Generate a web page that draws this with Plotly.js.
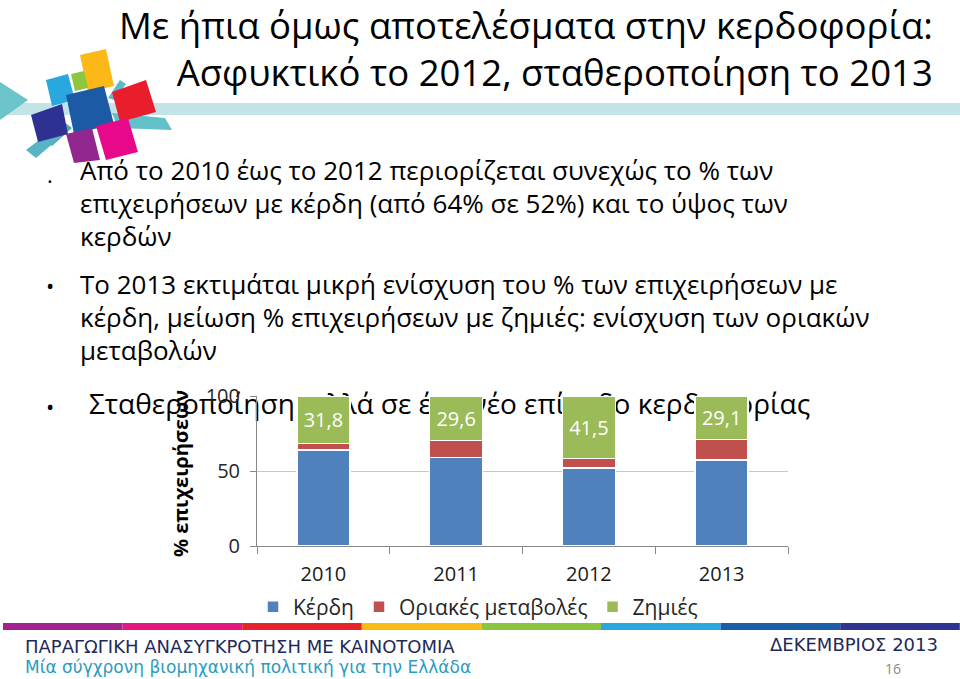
<!DOCTYPE html>
<html>
<head>
<meta charset="utf-8">
<script src="https://cdn.plot.ly/plotly-3.0.1.min.js"></script>
<style>html,body{margin:0;padding:0;background:#fff;}#chart{width:960px;height:679px;}</style>
</head>
<body>
<div id="chart"></div>
<script>
// ---- data ----
const years = ['2010', '2011', '2012', '2013'];
const profits = [64.0, 59.0, 52.0, 57.3];      // Κέρδη
const marginal = [4.2, 11.4, 6.5, 13.6];       // Οριακές μεταβολές
const losses = [31.8, 29.6, 41.5, 29.1];       // Ζημιές
const seriesNames = ['Κέρδη', 'Οριακές μεταβολές', 'Ζημιές'];
const seriesColors = ['#4f81bd', '#c0504d', '#9bbb59'];
const yTickVals = [0, 50, 100];
const yTitle = '% επιχειρήσεων';

const titleLines = ['Με ήπια όμως αποτελέσματα στην κερδοφορία:', 'Ασφυκτικό το 2012, σταθεροποίηση το 2013'];
const bullet1 = ['Από το 2010 έως το 2012 περιορίζεται συνεχώς το % των', 'επιχειρήσεων με κέρδη (από 64% σε 52%) και το ύψος των', 'κερδών'];
const bullet2 = ['Το 2013 εκτιμάται μικρή ενίσχυση του % των επιχειρήσεων με', 'κέρδη, μείωση % επιχειρήσεων με ζημιές: ενίσχυση των οριακών', 'μεταβολών'];
const bullet3 = 'Σταθεροποίηση, αλλά σε ένα νέο επίπεδο κερδοφορίας';
const footer1 = 'ΠΑΡΑΓΩΓΙΚΗ ΑΝΑΣΥΓΚΡΟΤΗΣΗ ΜΕ ΚΑΙΝΟΤΟΜΙΑ';
const footer2 = 'Μία σύγχρονη βιομηχανική πολιτική για την Ελλάδα';
const footerDate = 'ΔΕΚΕΜΒΡΙΟΣ 2013';
const pageNum = '16';
const stripeColors = ['#a3248f', '#e6157f', '#e52329', '#fbbb15', '#8dc43f', '#2ba7df', '#1b5ea8', '#2e3490'];

// ---- helpers (pixel -> paper) ----
const W = 960, H = 679;
const px = x => x / W;
const py = y => 1 - y / H;
const FONT = '"Open Sans", "Noto Sans", sans-serif';
const FFONT = '"DejaVu Sans", sans-serif';

function poly(pts, color) {
  const d = pts.map((p, i) => (i ? 'L' : 'M') + px(p[0]).toFixed(4) + ',' + py(p[1]).toFixed(4)).join(' ') + ' Z';
  return {type: 'path', xref: 'paper', yref: 'paper', path: d, fillcolor: color, line: {width: 0}, layer: 'above'};
}

const traces = [
  {type: 'bar', x: years, y: profits, name: seriesNames[0], marker: {color: seriesColors[0], line: {color: '#ffffff', width: 1.5}}, hoverinfo: 'none'},
  {type: 'bar', x: years, y: marginal, name: seriesNames[1], marker: {color: seriesColors[1], line: {color: '#ffffff', width: 1.5}}, hoverinfo: 'none'},
  {type: 'bar', x: years, y: losses, name: seriesNames[2], marker: {color: seriesColors[2], line: {color: '#ffffff', width: 1.5}},
   texttemplate: '%{y:.1f}', textposition: 'inside', insidetextanchor: 'middle', textangle: 0,
   textfont: {family: FONT, size: 20, color: '#ffffff'}, hoverinfo: 'none'}
];

const annotations = [];
function textAnn(t, x, y, size, color, anchor, extra) {
  annotations.push(Object.assign({xref: 'paper', yref: 'paper', x: px(x), y: py(y), text: t, showarrow: false,
    xanchor: anchor || 'left', yanchor: 'middle', font: {family: FONT, size: size, color: color || '#000'}}, extra || {}));
}
textAnn(titleLines.join('<br>'), 935, 49, 36.5, '#000', 'right', {align: 'right'});
textAnn('·', 50, 180, 22, '#000', 'center');
bullet1.forEach((l, i) => textAnn(l, 78, 170 + i * 33, 26));
textAnn('•', 50, 285, 22, '#000', 'center');
bullet2.forEach((l, i) => textAnn(l, 78, 284 + i * 33, 26));
textAnn('•', 50, 406, 22, '#000', 'center');
textAnn(yTitle, 180, 474, 20, '#000', 'center', {textangle: -90, font: {family: FONT, size: 20, color: '#000', weight: 'bold'}});
textAnn(footer1, 23, 646, 18, '#1e2a5a', 'left', {font: {family: FFONT, size: 18, color: '#1e2a5a'}});
textAnn(footer2, 23, 667, 17, '#2a9cbf', 'left', {font: {family: FFONT, size: 17, color: '#2a9cbf'}});
textAnn(footerDate, 940, 644, 18, '#1e2a5a', 'right', {font: {family: FFONT, size: 18, color: '#1e2a5a'}});
textAnn(pageNum, 893, 668, 14, '#8a8a8a', 'center');

const shapes = [];
// third bullet drawn below the bars (bars cover it)
shapes.push({type: 'rect', xref: 'paper', yref: 'paper', x0: px(86), x1: px(900), y0: py(420), y1: py(390),
  line: {width: 0}, fillcolor: 'rgba(0,0,0,0)', layer: 'below',
  label: {text: bullet3, textposition: 'middle left', padding: 0, font: {family: FONT, size: 28, color: '#000'}}});
// header band
shapes.push({type: 'rect', xref: 'paper', yref: 'paper', x0: 0, x1: 1, y0: py(115), y1: py(103), fillcolor: '#c2e4e7', line: {width: 0}, layer: 'below'});
// footer stripe
stripeColors.forEach((c, i) => shapes.push({type: 'rect', xref: 'paper', yref: 'paper', x0: px(3 + i * 119.6), x1: px(3 + (i + 1) * 119.6), y0: py(630), y1: py(623), fillcolor: c, line: {width: 0}, layer: 'above'}));
// logo
shapes.push(poly([[0, 82], [28, 100], [0, 120]], '#6cc4cb'));
shapes.push(poly([[44, 138], [64, 122], [72, 128], [52, 146]], '#4aa9b8'));
shapes.push(poly([[26, 150], [55, 128], [62, 136], [36, 158]], '#5ab3c2'));
shapes.push(poly([[112, 113], [165, 118], [172, 130], [118, 128]], '#62c0c9'));
shapes.push(poly([[108, 98], [120, 80], [126, 84], [114, 100]], '#5fb8c6'));
shapes.push(poly([[80, 55], [106, 49], [114, 86], [88, 92]], '#fbb817'));
shapes.push(poly([[71, 74], [84, 71], [88, 88], [75, 91]], '#8dc63f'));
shapes.push(poly([[46, 80], [68, 74], [75, 100], [52, 106]], '#29a8df'));
shapes.push(poly([[112, 92], [146, 80], [156, 112], [120, 122]], '#ea1d2c'));
shapes.push(poly([[31, 115], [62, 104], [68, 134], [38, 142]], '#2e3192'));
shapes.push(poly([[66, 95], [104, 86], [114, 124], [74, 134]], '#1c5aa6'));
shapes.push(poly([[66, 134], [92, 128], [100, 160], [74, 163]], '#92278f'));
shapes.push(poly([[96, 126], [128, 118], [138, 152], [106, 160]], '#e8098b'));

const layout = {
  width: W, height: H,
  margin: {l: 0, r: 0, t: 0, b: 0},
  paper_bgcolor: '#ffffff', plot_bgcolor: 'rgba(0,0,0,0)',
  separators: ',.',
  barmode: 'stack', bargap: 0.6,
  font: {family: FONT, color: '#000'},
  showlegend: true,
  legend: {orientation: 'h', x: px(478), xanchor: 'center', y: py(607), yanchor: 'middle', bgcolor: 'rgba(0,0,0,0)',
    font: {family: FONT, size: 21, color: '#262626'}, traceorder: 'normal', itemwidth: 30},
  xaxis: {domain: [px(257), px(788)], type: 'category', tickson: 'boundaries', ticks: 'outside', ticklen: 7,
    tickcolor: '#888888', showline: true, linecolor: '#888888', linewidth: 1, showgrid: false,
    tickfont: {family: FONT, size: 20, color: '#1a1a1a'}, ticklabelstandoff: 10, fixedrange: true},
  yaxis: {domain: [py(546), py(396)], range: [0, 100], tickvals: yTickVals, ticks: 'outside', ticklen: 6,
    tickcolor: '#888888', showline: true, linecolor: '#888888', showgrid: true, gridcolor: '#c8c8c8', zeroline: false,
    tickfont: {family: FONT, size: 20, color: '#262626'}, ticklabelstandoff: 6, fixedrange: true},
  annotations: annotations,
  shapes: shapes
};

Plotly.newPlot('chart', traces, layout, {displayModeBar: false, staticPlot: true});
</script>
</body>
</html>
